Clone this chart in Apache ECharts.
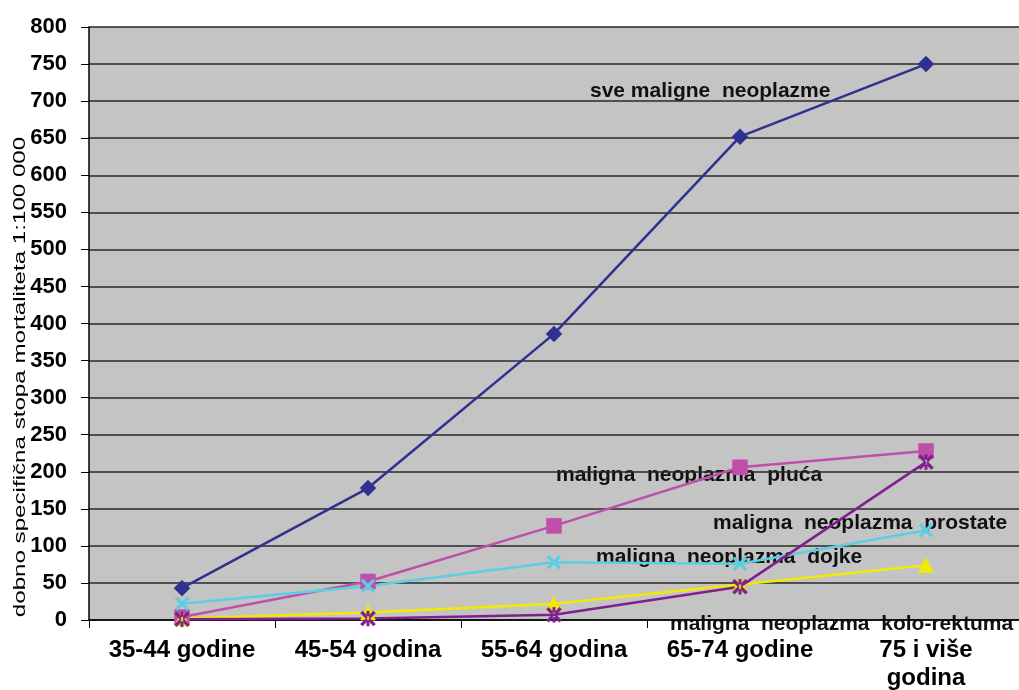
<!DOCTYPE html>
<html>
<head>
<meta charset="utf-8">
<script src="https://cdn.jsdelivr.net/npm/echarts@6/dist/echarts.min.js"></script>
<style>html,body{margin:0;padding:0;background:#fff;}#c{width:1019px;height:690px;}</style>
</head>
<body>
<div id="c"></div>
<script>
const categories = ['35-44 godine', '45-54 godina', '55-64 godina', '65-74 godine', '75 i više\ngodina'];
const sveMaligne = [43, 178, 386, 652, 750];
const pluca = [4, 52, 127, 206, 228];
const dojkeProstate = [22, 46, 78, 76, 121];
const yellowSeries = [2, 10, 22, 48, 74];
const koloRektum = [1, 2, 7, 45, 213];
const yTicks = [0, 800, 50];

const xPath = 'path://M0,1.4 L1.4,0 L5,3.6 L8.6,0 L10,1.4 L6.4,5 L10,8.6 L8.6,10 L5,6.4 L1.4,10 L0,8.6 L3.6,5 Z';
const starPath = 'path://M0,1.4 L1.4,0 L5,3.6 L8.6,0 L10,1.4 L6.4,5 L10,8.6 L8.6,10 L5,6.4 L1.4,10 L0,8.6 L3.6,5 Z M4.2,0 L4.2,10 L5.8,10 L5.8,0 Z';

const chart = echarts.init(document.getElementById('c'));
const FONT = '"Liberation Sans", Arial, sans-serif';
const lbl = (text, x, y) => ({
  type: 'text', x: x, y: y,
  style: { text: text, font: 'bold 21px ' + FONT, fill: '#111', verticalAlign: 'middle', align: 'left' }
});
function mk(name, data, color, symbol, size) {
  return {
    name: name, type: 'line', data: data, symbol: symbol, symbolSize: size,
    lineStyle: { color: color, width: 2.5 },
    itemStyle: { color: color, borderColor: color, borderWidth: 0.5 },
    showAllSymbol: true, animation: false
  };
}
chart.setOption({
  animation: false,
  grid: { left: 89, right: 0, top: 27, bottom: 70, show: true, backgroundColor: '#C4C4C4', borderWidth: 0, containLabel: false, outerBoundsMode: 'none' },
  xAxis: {
    type: 'category', data: categories, boundaryGap: true,
    axisLine: { lineStyle: { color: '#000', width: 1.5 } },
    axisTick: { show: true, length: 8, lineStyle: { color: '#000' } },
    axisLabel: { color: '#000', fontSize: 24, fontWeight: 'bold', fontFamily: FONT, margin: 16, lineHeight: 28, interval: 0 }
  },
  yAxis: {
    type: 'value', min: yTicks[0], max: yTicks[1], interval: yTicks[2],
    axisLine: { show: true, lineStyle: { color: '#000', width: 1.5 } },
    axisTick: { show: true, length: 8, lineStyle: { color: '#000' } },
    axisLabel: { color: '#000', fontSize: 22, fontWeight: 'bold', fontFamily: FONT, margin: 22 },
    splitLine: { lineStyle: { color: '#2a2a2a', width: 1.5 } }
  },
  series: [
    mk('sve maligne neoplazme', sveMaligne, '#2E318F', 'diamond', 16),
    mk('maligna neoplazma pluća', pluca, '#BF4FA8', 'rect', 15),
    mk('maligna neoplazma dojke / prostate', dojkeProstate, '#5CCEE3', xPath, 14),
    mk('yellow', yellowSeries, '#F2EA00', 'triangle', 15),
    mk('maligna neoplazma kolo-rektuma', koloRektum, '#80208F', starPath, 15)
  ],
  graphic: [
    lbl('sve maligne  neoplazme', 590, 91),
    lbl('maligna  neoplazma  pluća', 556, 475),
    lbl('maligna  neoplazma  prostate', 713, 523),
    lbl('maligna  neoplazma  dojke', 596, 557),
    lbl('maligna  neoplazma  kolo-rektuma', 670, 624),
    {
      type: 'text', x: 20, y: 377, rotation: Math.PI / 2, scaleX: 1.42,
      style: { text: 'dobno specifična stopa mortaliteta 1:100 000', font: '17px ' + FONT, fill: '#000', align: 'center', verticalAlign: 'middle' }
    }
  ]
});
</script>
</body>
</html>
